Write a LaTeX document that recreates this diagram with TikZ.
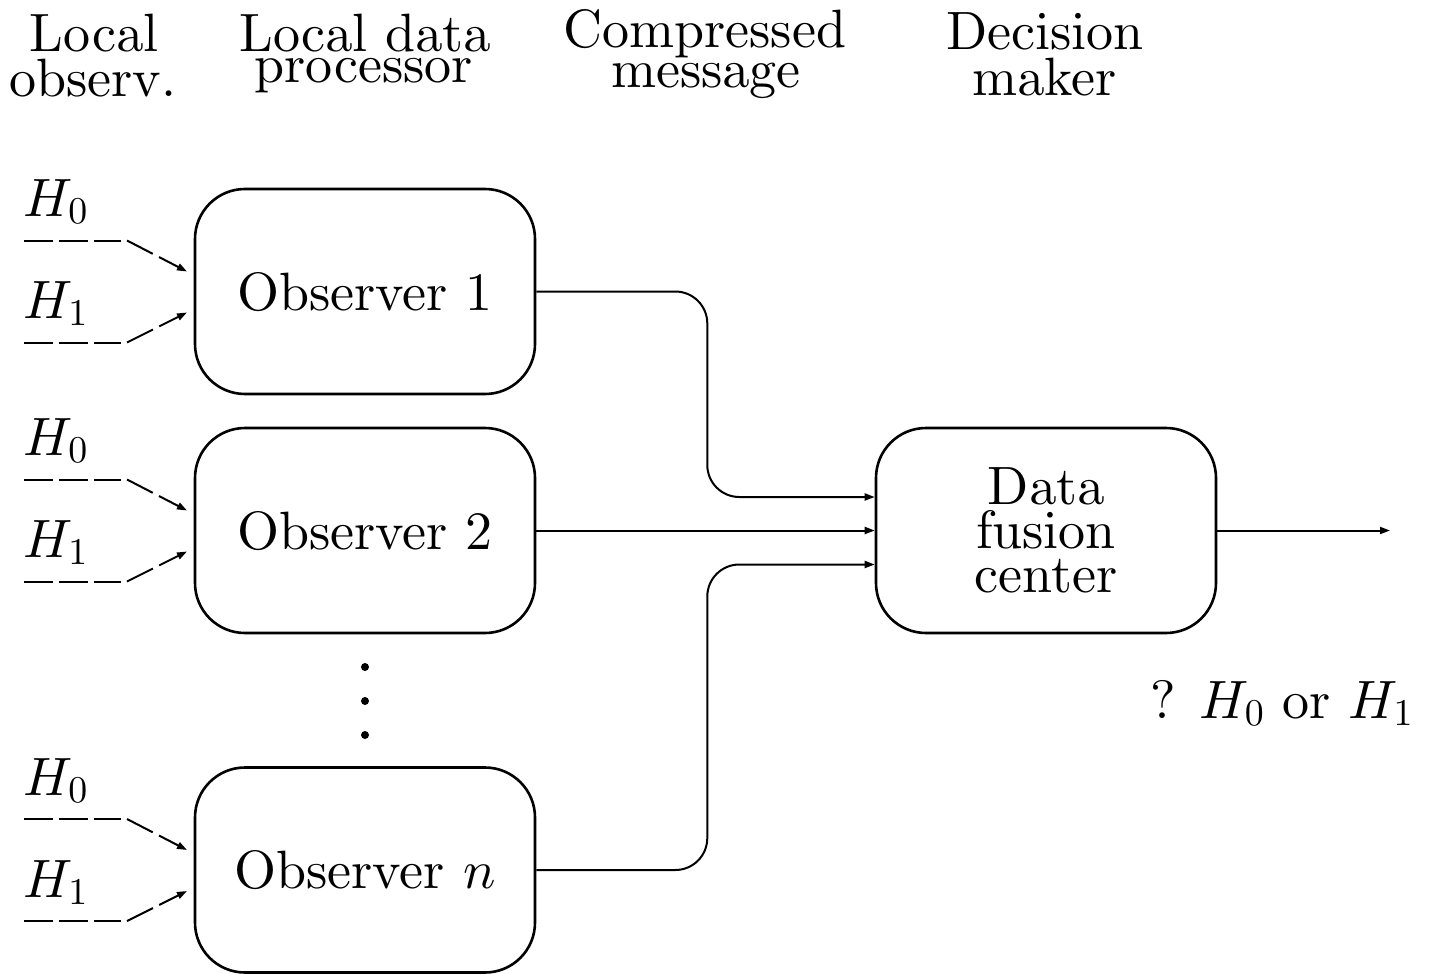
\documentclass[tikz,border=0pt]{standalone}
\usepackage{graphicx}
\usetikzlibrary{arrows.meta,calc}
\DeclareFontShape{OT1}{cmr}{m}{n}{<-> cmr10}{}
\DeclareFontShape{OML}{cmm}{m}{it}{<-> cmmi10}{}
\newcommand\bigfont{\fontencoding{OT1}\fontfamily{cmr}\fontseries{m}\fontshape{n}\fontsize{27}{27}\selectfont}
\newcommand\boxfont{\fontencoding{OT1}\fontfamily{cmr}\fontseries{m}\fontshape{n}\fontsize{27}{22}\selectfont}
\begin{document}
\begin{tikzpicture}[x=0.5pt,y=-0.5pt,
  txt/.style={font=\bigfont, inner sep=0pt},
  box/.style={draw, line width=1.3pt, rounded corners=25pt, minimum width=170pt,
    minimum height=102.5pt, inner sep=0pt, font=\boxfont, align=center},
  conn/.style={line width=1pt, -{Triangle[length=5pt,width=3.5pt]}},
  hyp/.style={line width=1pt, dash pattern=on 14.5pt off 3pt},
  hyparr/.style={line width=1pt, dash pattern=on 14.5pt off 3.5pt, -{Triangle[length=5pt,width=3.5pt]}},
  dot/.style={circle, fill, inner sep=0pt, minimum size=4pt},
]
\useasboundingbox (0,0) rectangle (1429,974);

% headers
\node[txt, anchor=base] (h1a) at (94,52) {Local};
\node[txt, anchor=base] (h1b) at (93,97) {observ.};
\node[txt, anchor=base] (h2a) at (365,52) {Local data};
\node[txt, anchor=base] (h2b) at (364,83) {processor};
\node[txt, anchor=base] (h3a) at (705,48) {Compressed};
\node[txt, anchor=base] (h3b) at (706,88) {message};
\node[txt, anchor=base] (h4a) at (1045,50) {Decision};
\node[txt, anchor=base] (h4b) at (1045,96) {maker};

% boxes
\node[box] (o1) at (365,291.5) {Observer 1};
\node[box] (o2) at (365,530.5) {Observer 2};
\node[box] (on) at (365,870) {Observer $n$};
\node[box] (fus) at (1046,530.5) {Data\\fusion\\center};

% dots
\node[dot] (d1) at (365,667) {};
\node[dot] (d2) at (365,701) {};
\node[dot] (d3) at (365,735) {};

% inputs
\foreach \b in {o1,o2,on}{
  \coordinate (\b-s0) at ($(\b.center)+(-341,-51)$);
  \coordinate (\b-e0) at ($(\b.center)+(-244,-51)$);
  \coordinate (\b-d0) at ($(\b.center)+(-238,-51)$);
  \coordinate (\b-t0) at ($(\b.center)+(-178,-20)$);
  \coordinate (\b-s1) at ($(\b.center)+(-341,51)$);
  \coordinate (\b-e1) at ($(\b.center)+(-244,51)$);
  \coordinate (\b-d1) at ($(\b.center)+(-238,51)$);
  \coordinate (\b-t1) at ($(\b.center)+(-178,21)$);
  \node[txt, anchor=base west] (\b-h0) at ($(\b.center)+(-342,-75)$) {$H_0$};
  \node[txt, anchor=base west] (\b-h1) at ($(\b.center)+(-342,27)$) {$H_1$};
  \draw[hyp] (\b-s0) -- (\b-e0);
  \draw[hyparr] (\b-d0) -- (\b-t0);
  \draw[hyp] (\b-s1) -- (\b-e1);
  \draw[hyparr] (\b-d1) -- (\b-t1);
}

% connectors
\draw[conn, rounded corners=16pt] (o1.east) -- ++(171,0) |- ([yshift=16.75pt]fus.west);
\draw[conn] (o2.east) -- (fus.west);
\draw[conn, rounded corners=16pt] (on.east) -- ++(171,0) |- ([yshift=-17pt]fus.west);
\coordinate (out) at (1390,530.5);
\draw[conn] (fus.east) -- (out);

% decision
\node[txt, anchor=base] (dec) at (1282,718) {?\hspace{12pt}$H_0$ or $H_1$};
\end{tikzpicture}
\end{document}
